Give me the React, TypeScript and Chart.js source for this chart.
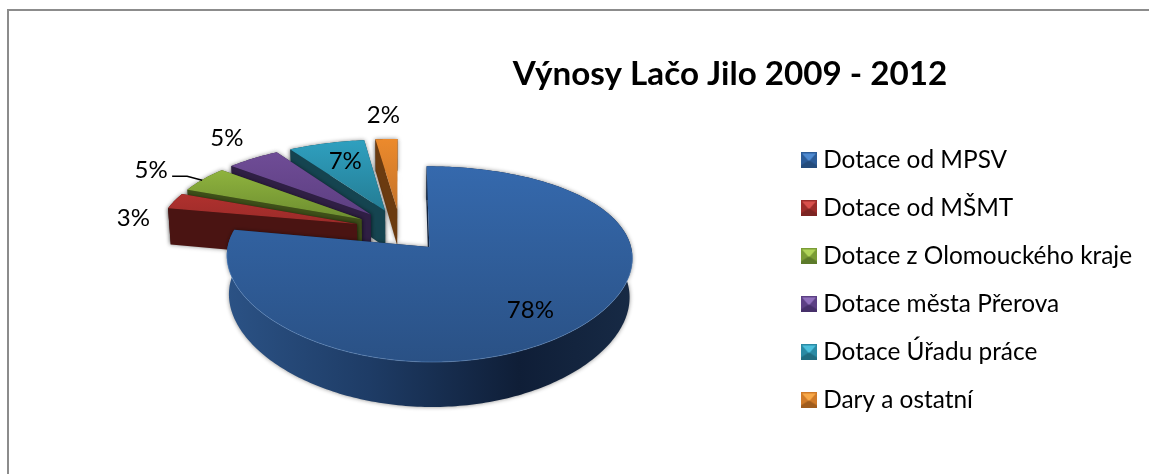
import React, { useEffect, useRef } from "react";
import { Chart, registerables } from "chart.js";

Chart.register(...registerables);

const categories = [
  "Dotace od MPSV",
  "Dotace od MŠMT",
  "Dotace z Olomouckého kraje",
  "Dotace města Přerova",
  "Dotace Úřadu práce",
  "Dary a ostatní",
];
const shares = [78, 3, 5, 5, 7, 2];
const titleText = "Výnosy Lačo Jilo 2009 - 2012";

const topLight = ["#3569ad", "#b0312e", "#8fb33e", "#6f4c96", "#2fa0bf", "#ec8a2c"];
const topDark = ["#2a5185", "#9b2b29", "#6d8e30", "#5d3f82", "#247c94", "#c5732a"];
const sideColor = ["#12233d", "#4a1412", "#3f5019", "#2f1f44", "#154450", "#6b3b10"];
const iconLight = ["#4f8ad0", "#d9504c", "#b0d45a", "#9070bc", "#4cc0dc", "#f8a848"];
const iconMid = ["#2c5c98", "#9c2c2a", "#7a9c36", "#5c4084", "#2a8aa4", "#d07a28"];
const iconDark = ["#244c7c", "#7c2422", "#5c7a2a", "#46306a", "#206c80", "#a05c1c"];
const labelNudgeX = [-41, -41, -52, -26, 19, -3];
const labelNudgeY = [-21, 17, -9, -20, 18, -24];

// perspective camera for the 3D pie
const originX = 400;
const originY = 230;
const radiusX = 198;
const radiusY = 89;
const perspectiveX = 0.1;
const perspectiveY = 0.17;
const extrude = 38;
const extrudeShrink = 0.012;
const explosionX = 0.228;
const explosionY = 0.24;

function project(X: number, Y: number, Z: number): [number, number] {
  const sx = 1 / (1 - perspectiveX * Y + extrudeShrink * Z);
  const sy = 1 / (1 - perspectiveY * Y + extrudeShrink * Z);
  return [originX + radiusX * X * sx, originY + (radiusY * Y + extrude * Z) * sy];
}

function poly(ctx: CanvasRenderingContext2D, pts: [number, number][]) {
  ctx.beginPath();
  pts.forEach((p, i) => (i ? ctx.lineTo(p[0], p[1]) : ctx.moveTo(p[0], p[1])));
  ctx.closePath();
}

const pie3d = {
  id: "pie3d",
  afterLayout(chart: any) {
    const title = chart.titleBlock;
    title.left = 430;
    title.right = 1030;
    title.top = 54;
    const legend = chart.legend;
    legend.left = 783.4;
    legend.top = 124.6;
    legend.bottom = 450;
  },
  beforeDraw(chart: any) {
    const ctx = chart.ctx;
    ctx.save();
    ctx.fillStyle = "#ffffff";
    ctx.fillRect(0, 0, chart.width, chart.height);
    ctx.fillStyle = "#8c8c8c";
    ctx.fillRect(7, 9, chart.width - 7, 2);
    ctx.fillRect(7, 9, 2, chart.height - 9);
    ctx.restore();
  },
  beforeDatasetsDraw(chart: any) {
    const ctx: CanvasRenderingContext2D = chart.ctx;
    const arcs = chart.getDatasetMeta(0).data;
    const labels: { x: number; y: number; t: string; i: number }[] = [];
    ctx.save();
    for (let k = arcs.length - 1; k >= 0; k--) {
      const { startAngle, endAngle } = arcs[k];
      const mid = (startAngle + endAngle) / 2;
      const cx = Math.cos(mid) * explosionX;
      const cy = Math.sin(mid) * explosionY;
      const top: [number, number][] = [];
      const bottom: [number, number][] = [];
      const front: [number, number][] = [];
      const n = Math.max(2, Math.ceil(((endAngle - startAngle) * 180) / Math.PI));
      for (let j = 0; j <= n; j++) {
        const a = startAngle + ((endAngle - startAngle) * j) / n;
        const X = cx + Math.cos(a);
        const Y = cy + Math.sin(a);
        top.push(project(X, Y, 0));
        bottom.push(project(X, Y, 1));
        if (Math.sin(a) > 0.05) front.push(project(X, Y, 0));
      }
      const tip0 = project(cx, cy, 0);
      const tip1 = project(cx, cy, 1);
      const xs = top.map((p) => p[0]).concat(tip0[0]);
      const ys = top.map((p) => p[1]).concat(tip0[1]);
      const minX = Math.min(...xs);
      const maxX = Math.max(...xs);
      const minY = Math.min(...ys);
      const maxY = Math.max(...ys);

      ctx.shadowColor = "rgba(0,0,0,0.45)";
      ctx.shadowBlur = 4;
      const wall = ctx.createLinearGradient(minX, 0, maxX, 0);
      if (k === 0) {
        wall.addColorStop(0, "#2b5285");
        wall.addColorStop(0.35, "#1e3c66");
        wall.addColorStop(0.72, "#0f1e37");
        wall.addColorStop(1, "#172a45");
      } else {
        wall.addColorStop(0, sideColor[k]);
        wall.addColorStop(1, sideColor[k]);
      }
      ctx.fillStyle = wall;
      poly(ctx, top.concat(bottom.slice().reverse()));
      ctx.fill();
      ctx.fillStyle = sideColor[k];
      poly(ctx, [tip0, top[top.length - 1], bottom[bottom.length - 1], tip1]);
      ctx.fill();
      poly(ctx, [tip0, top[0], bottom[0], tip1]);
      ctx.fill();
      ctx.shadowColor = "transparent";
      ctx.shadowBlur = 0;

      const face = ctx.createLinearGradient(0, minY, 0, maxY);
      face.addColorStop(0, topLight[k]);
      face.addColorStop(1, topDark[k]);
      ctx.fillStyle = face;
      poly(ctx, [tip0, ...top]);
      ctx.fill();
      if (k === 0) {
        ctx.strokeStyle = "rgba(120,165,220,0.4)";
        ctx.lineWidth = 1;
        ctx.beginPath();
        front.forEach((p, j) => (j ? ctx.lineTo(p[0], p[1]) : ctx.moveTo(p[0], p[1])));
        ctx.stroke();
      }

      const anchor = project(cx + Math.cos(mid), cy + Math.sin(mid), 0);
      labels.push({
        x: anchor[0] + labelNudgeX[k],
        y: anchor[1] + labelNudgeY[k],
        t: `${shares[k]}%`,
        i: k,
      });
    }
    ctx.fillStyle = "#000000";
    ctx.font = "24px Lato";
    ctx.textAlign = "center";
    ctx.textBaseline = "middle";
    labels.forEach((l) => {
      ctx.fillText(l.t, l.x, l.y);
      if (l.i === 2) {
        ctx.strokeStyle = "#000000";
        ctx.lineWidth = 1.5;
        ctx.beginPath();
        ctx.moveTo(l.x + 21, l.y + 6);
        ctx.lineTo(l.x + 36, l.y + 6);
        ctx.lineTo(l.x + 51, l.y + 10);
        ctx.stroke();
      }
    });
    ctx.restore();
    return false;
  },
};

function bevel(i: number): HTMLCanvasElement {
  const c = document.createElement("canvas");
  c.width = 16;
  c.height = 16;
  const g = c.getContext("2d")!;
  const tri = (col: string, pts: [number, number][]) => {
    g.fillStyle = col;
    poly(g as any, pts);
    g.fill();
  };
  g.fillStyle = iconMid[i];
  g.fillRect(0, 0, 16, 16);
  tri(iconLight[i], [[1, 1], [15, 1], [8, 9]]);
  tri(iconDark[i], [[0, 16], [16, 16], [16, 13], [8, 8], [0, 13]]);
  return c;
}

export default function App() {
  const ref = useRef<HTMLCanvasElement>(null);
  useEffect(() => {
    const chart = new Chart(ref.current!, {
      type: "pie",
      data: {
        labels: categories,
        datasets: [{ data: shares, backgroundColor: topLight, borderWidth: 0 }],
      },
      options: {
        responsive: false,
        animation: false,
        layout: { padding: 0 },
        plugins: {
          tooltip: { enabled: false },
          title: {
            display: true,
            text: titleText,
            color: "#000000",
            padding: 0,
            font: { family: "Lato", size: 33.2, weight: "bold" },
          },
          legend: {
            position: "right",
            align: "start",
            labels: {
              color: "#000000",
              font: { family: "Lato", size: 24.4 },
              padding: 23.6,
              boxWidth: 4,
              usePointStyle: true,
              generateLabels: () =>
                categories.map((text, i) => ({
                  text,
                  pointStyle: bevel(i),
                  fillStyle: topLight[i],
                  strokeStyle: topLight[i],
                  lineWidth: 0,
                  fontColor: "#000000",
                  index: i,
                })),
            },
          },
        },
      },
      plugins: [pie3d],
    } as any);
    return () => chart.destroy();
  }, []);
  return (
    <div style={{ position: "fixed", left: 0, top: 0 }}>
      <canvas ref={ref} width={1149} height={474} style={{ display: "block" }} />
    </div>
  );
}
